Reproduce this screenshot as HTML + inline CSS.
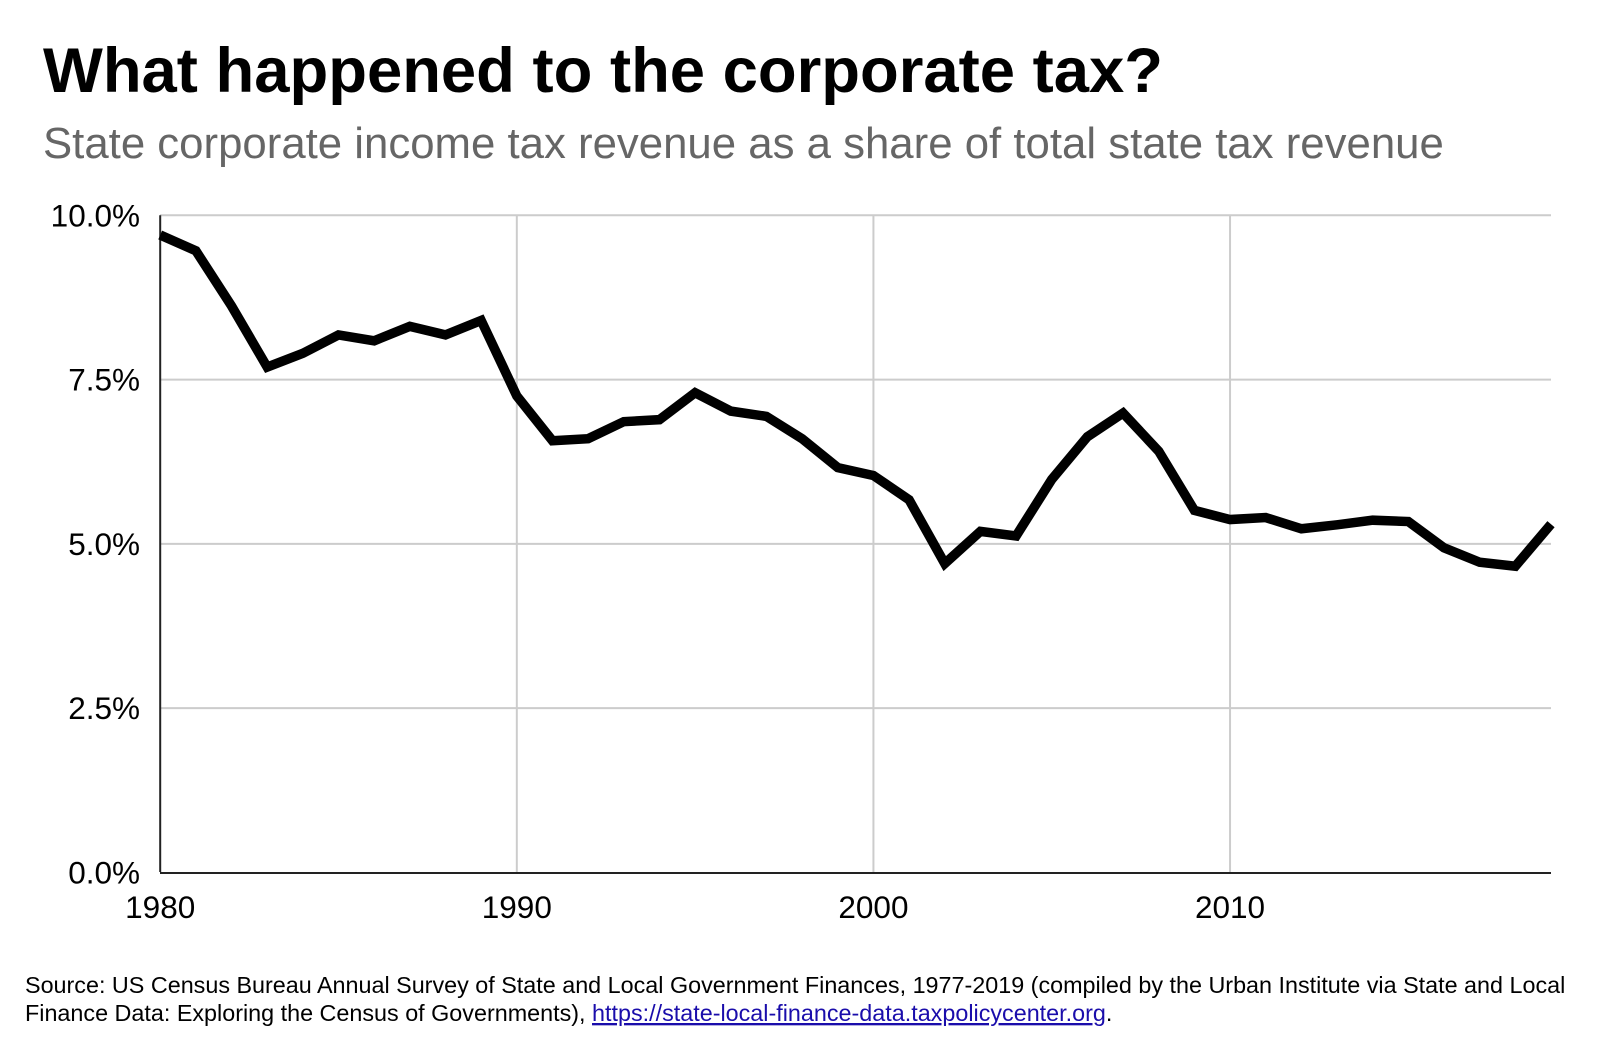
<!DOCTYPE html>
<html><head><meta charset="utf-8"><style>
body{margin:0;background:#fff;width:1600px;height:1050px;overflow:hidden;font-family:"Liberation Sans",Arial,sans-serif}
</style></head><body>
<svg width="1600" height="1050" xmlns="http://www.w3.org/2000/svg">
<text x="43" y="92" font-size="63.4" font-weight="bold" fill="#000">What happened to the corporate tax?</text>
<text x="43" y="158" font-size="43.75" fill="#666">State corporate income tax revenue as a share of total state tax revenue</text>
<g id="grid"></g>
<g id="ylab"></g>
<g id="xlab"></g>
<line x1="160" y1="873" x2="1551" y2="873" stroke="#222" stroke-width="2"/>
<path id="series" fill="none" stroke="#000" stroke-width="9.5" stroke-linejoin="miter"/>
<text x="25" y="993" font-size="23.35" fill="#000">Source: US Census Bureau Annual Survey of State and Local Government Finances, 1977-2019 (compiled by the Urban Institute via State and Local</text>
<text x="25" y="1021" font-size="23.35" fill="#000">Finance Data: Exploring the Census of Governments), <tspan fill="#1a0dab" text-decoration="underline">https://state-local-finance-data.taxpolicycenter.org</tspan>.</text>
</svg>
<script>
const years=[1980,1981,1982,1983,1984,1985,1986,1987,1988,1989,1990,1991,1992,1993,1994,1995,1996,1997,1998,1999,2000,2001,2002,2003,2004,2005,2006,2007,2008,2009,2010,2011,2012,2013,2014,2015,2016,2017,2018,2019];
const shares=[9.70,9.46,8.62,7.69,7.90,8.18,8.09,8.31,8.18,8.40,7.25,6.57,6.60,6.86,6.89,7.30,7.02,6.94,6.60,6.16,6.04,5.67,4.70,5.19,5.12,5.98,6.63,6.99,6.41,5.51,5.37,5.40,5.23,5.29,5.36,5.34,4.94,4.72,4.66,5.30];
const yTicks=[0,2.5,5,7.5,10];
const yTickLabels=["0.0%","2.5%","5.0%","7.5%","10.0%"];
const xTicks=[1980,1990,2000,2010];
const NS="http://www.w3.org/2000/svg";
const X=y=>160.2+(y-1980)*(1551-160.2)/39;
const Y=v=>872.4-v*65.71;
const grid=document.getElementById('grid'),yl=document.getElementById('ylab'),xl=document.getElementById('xlab');
yTicks.forEach((t,i)=>{
  if(t>0){const l=document.createElementNS(NS,'line');
  l.setAttribute('x1',160);l.setAttribute('x2',1551);l.setAttribute('y1',Y(t));l.setAttribute('y2',Y(t));
  l.setAttribute('stroke','#ccc');l.setAttribute('stroke-width','2');
  
  
  grid.appendChild(l);}
  const tx=document.createElementNS(NS,'text');
  tx.setAttribute('x',140);tx.setAttribute('y',Y(t)+11);tx.setAttribute('text-anchor','end');tx.setAttribute('font-size','31.5');
  tx.textContent=yTickLabels[i];
  
  
  yl.appendChild(tx);
});
xTicks.forEach(t=>{
  const l=document.createElementNS(NS,'line');
  l.setAttribute('x1',X(t));l.setAttribute('x2',X(t));l.setAttribute('y1',Y(10));l.setAttribute('y2',872);
  l.setAttribute('stroke',t>1980?'#ccc':'#222');l.setAttribute('stroke-width','2');
  
  
  grid.appendChild(l);
  const tx=document.createElementNS(NS,'text');
  tx.setAttribute('x',X(t));tx.setAttribute('y',918);tx.setAttribute('text-anchor','middle');tx.setAttribute('font-size','31.5');
  tx.textContent=t;
  
  
  xl.appendChild(tx);
});
document.getElementById('series').setAttribute('d',years.map((y,i)=>(i?'L':'M')+X(y)+','+Y(shares[i])).join(''));
</script>
</body></html>
